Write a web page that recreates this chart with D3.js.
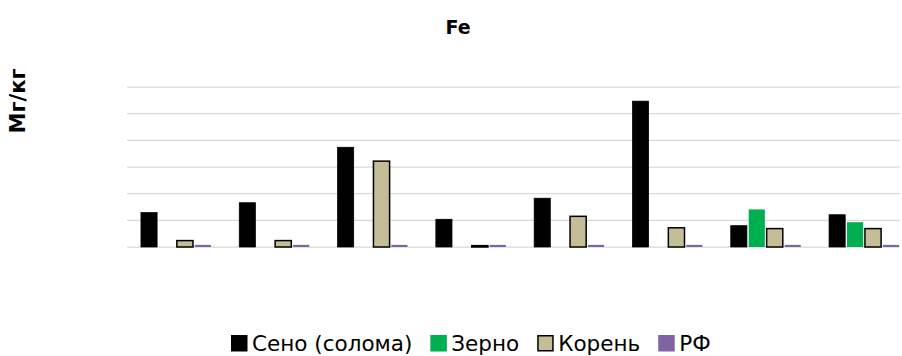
<!DOCTYPE html>
<html>
<head>
<meta charset="utf-8">
<script src="https://cdn.jsdelivr.net/npm/d3@7"></script>
<style>
  body { margin: 0; background: #fff; }
  svg { font-family: "DejaVu Sans", sans-serif; }
</style>
</head>
<body>
<svg id="drawing_region"></svg>
<script>
const categories = ['1', '2', '3', '4', '5', '6', '7', '8'];
const seriesNames = ['Сено (солома)', 'Зерно', 'Корень', 'РФ'];
const hay   = [12.9, 16.6, 37.4, 10.4, 18.3, 54.7, 8.0, 12.1];
const grain = [0, 0, 0, 0, 0, 0, 14.1, 9.3];
const root  = [2.4, 2.4, 32.2, 0.5, 11.5, 7.2, 6.9, 6.9];
const rf    = [0.8, 0.8, 0.8, 0.8, 0.8, 0.8, 0.8, 0.8];
const yTicks = [0, 10, 20, 30, 40, 50, 60];

const seriesValues = [hay, grain, root, rf];
const colors  = ['#000000', '#00b050', '#c4bd97', '#8064a2'];
const strokes = ['#000000', 'none', '#000000', 'none'];

const width = 902, height = 356;
const margin = { top: 87, left: 127 };
const plotW = 786;           // plot area runs past the right edge of the picture
const gridW = width - margin.left - 2;
const innerH = 160;

const svg = d3.select('#drawing_region')
    .attr('width', width)
    .attr('height', height);

const chart = svg.append('g')
    .attr('transform', `translate(${margin.left}, ${margin.top})`);

const x0 = d3.scaleBand()
    .domain(categories)
    .range([0, plotW])
    .paddingInner(0.288)
    .paddingOuter(0.142);

const x1 = d3.scaleBand()
    .domain(seriesNames)
    .range([0, x0.bandwidth()])
    .paddingInner(0.1);

const y = d3.scaleLinear()
    .domain([0, 60])
    .range([innerH, 0]);

// gridlines
chart.append('g')
    .selectAll('line')
    .data(yTicks)
    .join('line')
    .attr('x1', 0)
    .attr('x2', gridW)
    .attr('y1', d => y(d))
    .attr('y2', d => y(d))
    .attr('stroke', '#d9d9d9')
    .attr('stroke-width', 1.25);

// bars
const rows = [];
categories.forEach((c, i) => {
    seriesNames.forEach((s, j) => {
        if (seriesValues[j][i] > 0) rows.push({ c, s, j, v: seriesValues[j][i] });
    });
});

chart.append('g')
    .selectAll('rect')
    .data(rows)
    .join('rect')
    .attr('x', d => x0(d.c) + x1(d.s))
    .attr('y', d => y(d.v))
    .attr('width', x1.bandwidth())
    .attr('height', d => y(0) - y(d.v))
    .attr('fill', d => colors[d.j])
    .attr('stroke', d => strokes[d.j])
    .attr('stroke-width', d => d.j === 2 ? 1.5 : 0.75);

// title
svg.append('text')
    .attr('x', 458)
    .attr('y', 34)
    .attr('text-anchor', 'middle')
    .attr('font-size', 19)
    .attr('font-weight', 'bold')
    .text('Fe');

// y label
svg.append('text')
    .attr('transform', 'translate(25, 101) rotate(-90)')
    .attr('text-anchor', 'middle')
    .attr('font-size', 21)
    .attr('font-weight', 'bold')
    .text('Мг/кг');

// legend
const legend = svg.append('g');
let lx = 231;
seriesNames.forEach((s, j) => {
    const g = legend.append('g').attr('transform', `translate(${lx}, 335)`);
    g.append('rect')
        .attr('x', 0.75).attr('y', 0.75)
        .attr('width', 15).attr('height', 15)
        .attr('fill', colors[j])
        .attr('stroke', j === 2 ? '#000' : colors[j])
        .attr('stroke-width', 1.5);
    const t = g.append('text')
        .attr('x', 21)
        .attr('y', 15.5)
        .attr('font-size', 21.5)
        .attr('fill', '#000')
        .text(s);
    lx += 21 + t.node().getComputedTextLength() + 18;
});
</script>
</body>
</html>
